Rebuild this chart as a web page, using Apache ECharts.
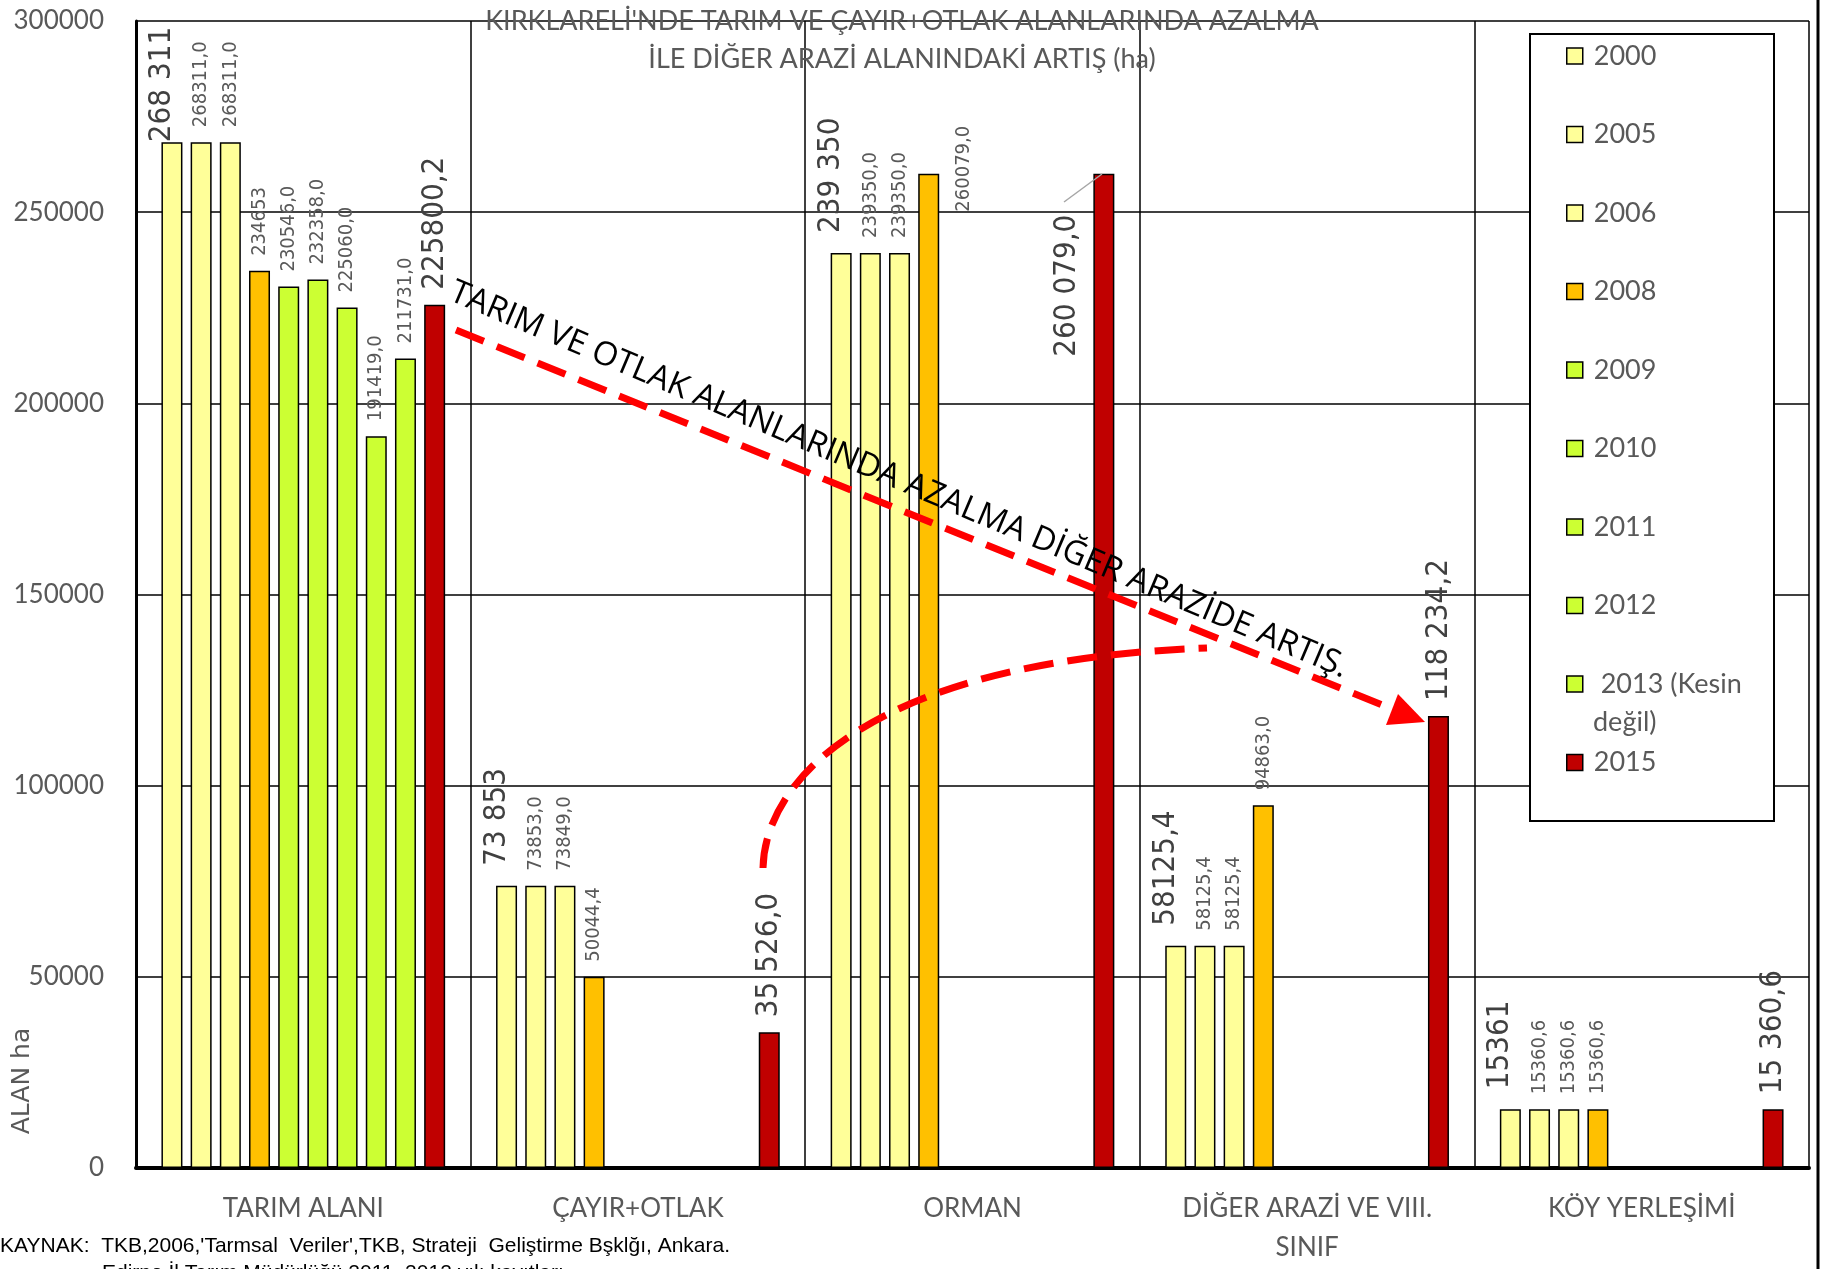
<!DOCTYPE html>
<html><head><meta charset="utf-8">
<script src="https://cdn.jsdelivr.net/npm/echarts@6/dist/echarts.min.js"></script>
<style>html,body{margin:0;padding:0;background:#fff}#c{width:1825px;height:1269px}</style>
</head><body><div id="c"></div>
<script>
// ---- data ----
const categories = ['TARIM ALANI', 'ÇAYIR+OTLAK', 'ORMAN', 'DİĞER ARAZİ VE VIII.\nSINIF', 'KÖY YERLEŞİMİ'];
const seriesNames = ['2000', '2005', '2006', '2008', '2009', '2010', '2011', '2012', '2013 (Kesin değil)', '2015'];
const v2000 = [268311, 73853, 239350, 58125.4, 15361];
const v2005 = [268311, 73853, 239350, 58125.4, 15360.6];
const v2006 = [268311, 73849, 239350, 58125.4, 15360.6];
const v2008 = [234653, 50044.4, 260079, 94863, 15360.6];
const v2009 = [230546, null, null, null, null];
const v2010 = [232358, null, null, null, null];
const v2011 = [225060, null, null, null, null];
const v2012 = [191419, null, null, null, null];
const v2013 = [211731, null, null, null, null];
const v2015 = [225800.2, 35526, 260079, 118234.2, 15360.6];
const l2000 = ['268 311', '73 853', '239 350', '58125,4', '15361'];
const l2005 = ['268311,0', '73853,0', '239350,0', '58125,4', '15360,6'];
const l2006 = ['268311,0', '73849,0', '239350,0', '58125,4', '15360,6'];
const l2008 = ['234653', '50044,4', '260079,0', '94863,0', '15360,6'];
const l2009 = ['230546,0'];
const l2010 = ['232358,0'];
const l2011 = ['225060,0'];
const l2012 = ['191419,0'];
const l2013 = ['211731,0'];
const l2015 = ['225800,2', '35 526,0', '260 079,0', '118 234,2', '15 360,6'];
const yTicks = [0, 50000, 100000, 150000, 200000, 250000, 300000];

// ---- styling ----
const values = [v2000, v2005, v2006, v2008, v2009, v2010, v2011, v2012, v2013, v2015];
const labels = [l2000, l2005, l2006, l2008, l2009, l2010, l2011, l2012, l2013, l2015];
const colors = ['#FFFF99', '#FFFF99', '#FFFF99', '#FFC000', '#CCFF33', '#CCFF33', '#CCFF33', '#CCFF33', '#CCFF33', '#C00000'];
const bigLabel = [true, false, false, false, false, false, false, false, false, true];
const labelTweaks = {
  '0-0': { distance: 0 },
  '3-2': { position: [46, 38] },
  '9-2': { position: [-26, 183] }
};
const numFont = '"DejaVu Sans Condensed", "DejaVu Sans", sans-serif';
const txtFont = 'Lato, "Open Sans", sans-serif';

const series = seriesNames.map((name, i) => ({
  name, type: 'bar', barWidth: 21, barGap: '39%',
  itemStyle: { color: colors[i], borderColor: '#000', borderWidth: 1.5 },
  label: {
    show: true, position: 'top', rotate: 90, align: 'left', verticalAlign: 'middle',
    distance: bigLabel[i] ? (i === 0 ? 20 : 15) : 15,
    offset: i === 0 ? [0, -10] : [0, 0],
    fontFamily: numFont, fontSize: bigLabel[i] ? 31 : 20,
    color: bigLabel[i] ? '#404040' : '#595959',
    formatter: p => labels[i][p.dataIndex] || ''
  },
  data: values[i].map((v, j) => {
    const t = labelTweaks[i + '-' + j];
    return t ? { value: v, label: t } : v;
  })
}));

const chart = echarts.init(document.getElementById('c'));
chart.setOption({
  animation: false,
  backgroundColor: '#fff',
  grid: { left: 136, right: 16, top: 21, bottom: 101 },
  legend: {
    orient: 'vertical', left: 1561, top: 36, itemWidth: 16, itemHeight: 16, itemGap: 48.5,
    icon: 'rect', selectedMode: false, z: 6,
    itemStyle: { borderColor: '#000', borderWidth: 1.5 },
    textStyle: { fontFamily: txtFont, fontSize: 27, color: '#595959', lineHeight: 30, padding: [0, 0, 0, 6] },
    formatter: n => n === '2013 (Kesin değil)' ? ' 2013 (Kesin' : n,
    data: seriesNames
  },
  xAxis: {
    type: 'category', data: categories,
    axisLine: { show: true, lineStyle: { color: '#000', width: 4 } },
    axisTick: { show: false },
    splitLine: { show: true, interval: 0, lineStyle: { color: '#000', width: 1.5 } },
    axisLabel: { interval: 0, margin: 21, fontFamily: txtFont, fontSize: 26, color: '#595959', lineHeight: 39 }
  },
  yAxis: {
    type: 'value', min: yTicks[0], max: yTicks[yTicks.length - 1], interval: yTicks[1] - yTicks[0],
    axisLine: { show: true, lineStyle: { color: '#000', width: 3 } },
    axisTick: { show: false },
    splitLine: { show: true, lineStyle: { color: '#000', width: 1.5 } },
    axisLabel: { margin: 32, fontFamily: txtFont, fontSize: 26, color: '#595959', formatter: v => String(v) }
  },
  series,
  graphic: [
    { type: 'text', z: 6, x: 902, y: 2, style: { text: "KIRKLARELİ'NDE TARIM VE ÇAYIR+OTLAK ALANLARINDA AZALMA\nİLE DİĞER ARAZİ ALANINDAKİ ARTIŞ (ha)", fontFamily: 'Lato', fontSize: 27, lineHeight: 38, fill: '#595959', align: 'center', verticalAlign: 'top' } },
    { type: 'rect', z: 3, shape: { x: 1530, y: 34, width: 244, height: 787 }, style: { fill: '#fff', stroke: '#000', lineWidth: 2 } },
    { type: 'text', z: 6, x: 1593, y: 722, style: { text: 'değil)', fontFamily: 'Lato', fontSize: 27, fill: '#595959', verticalAlign: 'middle' } },
    { type: 'line', z: 1, shape: { x1: 1818, y1: 0, x2: 1818, y2: 1269 }, style: { stroke: '#000', lineWidth: 3 } },
    { type: 'text', z: 6, x: 22, y: 1081, rotation: Math.PI / 2, style: { text: 'ALAN ha', fontFamily: 'DejaVu Sans', fontSize: 25, fill: '#595959', align: 'center', verticalAlign: 'middle' } },
    { type: 'text', z: 6, x: 0, y: 1246, style: { text: "KAYNAK:  TKB,2006,'Tarmsal  Veriler',TKB, Strateji  Geliştirme Bşklğı, Ankara.", fontFamily: '"Liberation Sans Narrow", "Liberation Sans"', fontSize: 21, fill: '#000', verticalAlign: 'middle' } },
    { type: 'text', z: 6, x: 102, y: 1263, style: { text: 'Edirne İl Tarım Müdürlüğü 2011, 2012 yılı kayıtları', fontFamily: '"Liberation Sans Narrow", "Liberation Sans"', fontSize: 21, fill: '#000', verticalAlign: 'top' } },
    { type: 'line', z: 6, shape: { x1: 1064, y1: 202, x2: 1102, y2: 174 }, style: { stroke: '#a6a6a6', lineWidth: 1.5 } },
    { type: 'text', z: 7, x: 899, y: 480, rotation: -0.40, style: { text: 'TARIM VE OTLAK ALANLARINDA AZALMA DİĞER ARAZİDE ARTIŞ.', fontFamily: '"Open Sans"', fontSize: 33, fill: '#000', align: 'center', verticalAlign: 'middle' } },
    { type: 'line', z: 7, shape: { x1: 456, y1: 330, x2: 1392, y2: 709 }, style: { stroke: '#ff0000', lineWidth: 7, lineDash: [30, 14] } },
    { type: 'polygon', z: 7, shape: { points: [[1425, 722], [1386, 725], [1398, 694]] }, style: { fill: '#ff0000' } },
    { type: 'bezierCurve', z: 7, shape: { x1: 763, y1: 868, cpx1: 765, cpy1: 775, cpx2: 880, cpy2: 660, x2: 1207, y2: 648 }, style: { stroke: '#ff0000', lineWidth: 7, lineDash: [30, 14], fill: null } }
  ]
});
</script>
</body></html>
